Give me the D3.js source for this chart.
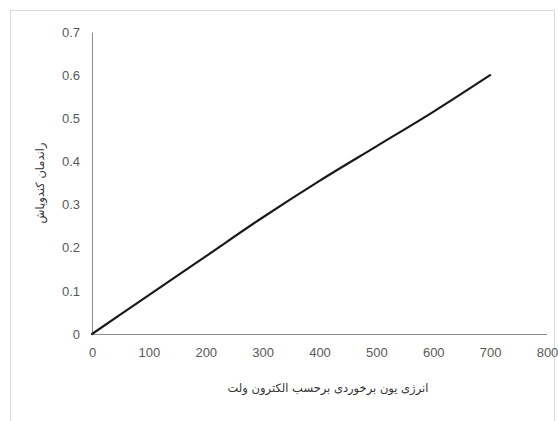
<!DOCTYPE html>
<html>
<head>
<meta charset="utf-8">
<script src="https://cdn.jsdelivr.net/npm/d3@7/dist/d3.min.js"></script>
<style>
  html, body { margin: 0; padding: 0; background: #fff; }
  svg { display: block; }
</style>
</head>
<body>
<svg id="chart" width="558" height="421"></svg>
<script>
// Data
const energy = [0, 100, 200, 300, 400, 500, 600, 700];
const yieldVals = [0, 0.09, 0.18, 0.27, 0.355, 0.435, 0.515, 0.6];
const xTicks = [0, 100, 200, 300, 400, 500, 600, 700, 800];
const yTicks = [0, 0.1, 0.2, 0.3, 0.4, 0.5, 0.6, 0.7];
const xTitle = "انرژی یون برخوردی برحسب الکترون ولت";
const yTitle = "راندمان کندوپاش";

const svg = d3.select("#chart");
const W = 558, H = 421;
const m = { left: 92, top: 32, bottom: 87 };
const plotRight = 547;

// outer frame
svg.append("rect")
  .attr("x", 10.5).attr("y", 10.5)
  .attr("width", 544).attr("height", 420)
  .attr("fill", "none").attr("stroke", "#d9d9d9").attr("stroke-width", 1);

const x = d3.scaleLinear().domain([0, 800]).range([m.left, plotRight]);
const y = d3.scaleLinear().domain([0, 0.7]).range([H - m.bottom, m.top]);

const fontFam = "'Liberation Sans Narrow', 'Liberation Sans', 'DejaVu Sans', sans-serif";

// X axis
const xAxis = svg.append("g")
  .attr("transform", `translate(0,${y(0)})`)
  .call(d3.axisBottom(x).tickValues(xTicks).tickSize(0).tickPadding(14).tickFormat(d3.format("d")));
xAxis.select(".domain").attr("stroke", "#8c8c8c").attr("d", `M${x(0)},0.5H${plotRight}`);
xAxis.selectAll("text").attr("fill", "#595959").style("font-family", fontFam).style("font-size", "13px");

// Y axis
const yAxis = svg.append("g")
  .attr("transform", `translate(${x(0)},0)`)
  .call(d3.axisLeft(y).tickValues(yTicks).tickSize(0).tickPadding(12)
    .tickFormat(d => d === 0 ? "0" : d3.format(".1f")(d)));
yAxis.select(".domain").attr("stroke", "#8c8c8c");
yAxis.selectAll("text").attr("fill", "#595959").style("font-family", fontFam).style("font-size", "13px");

// line
const line = d3.line()
  .x((d, i) => x(energy[i]))
  .y(d => y(d))
  .curve(d3.curveMonotoneX);
svg.append("path")
  .datum(yieldVals)
  .attr("d", line)
  .attr("fill", "none")
  .attr("stroke", "#1a1a1a")
  .attr("stroke-width", 2.2)
  .attr("stroke-linecap", "round");

// titles
svg.append("text")
  .attr("x", 328).attr("y", 392)
  .attr("text-anchor", "middle")
  .attr("direction", "rtl")
  .attr("fill", "#333")
  .style("font-family", "'DejaVu Sans', 'Noto Sans', sans-serif")
  .style("font-size", "11.5px")
  .text(xTitle);

svg.append("text")
  .attr("transform", `translate(44,${183}) rotate(-90)`)
  .attr("text-anchor", "middle")
  .attr("direction", "rtl")
  .attr("fill", "#333")
  .style("font-family", "'DejaVu Sans', 'Noto Sans', sans-serif")
  .style("font-size", "11.5px")
  .text(yTitle);
</script>
</body>
</html>
